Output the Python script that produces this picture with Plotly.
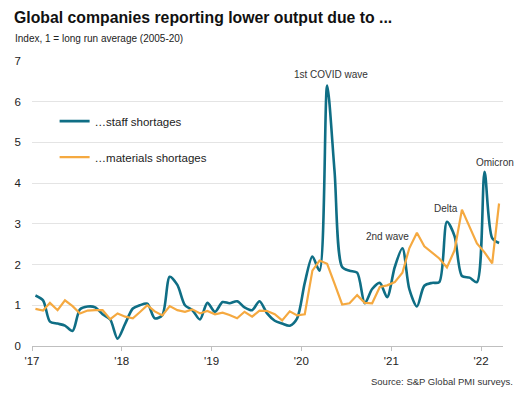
import pandas as pd
import plotly.graph_objects as go

# Monthly data, Jan 2017 - Mar 2022 (plotted mid-month)
months = (pd.date_range("2017-01-01", periods=63, freq="MS") + pd.Timedelta(days=14)).strftime("%Y-%m-%d").tolist()

staff = [1.24, 1.12, 0.60, 0.55, 0.50, 0.37, 0.90, 0.97, 0.95, 0.78,
         0.65, 0.18, 0.55, 0.92, 1.00, 1.04, 0.68, 0.76, 1.70, 1.50,
         1.00, 0.88, 0.65, 1.06, 0.84, 1.08, 1.05, 1.10, 0.95, 0.88,
         1.10, 0.80, 0.62, 0.55, 0.50, 0.68, 1.55, 2.20, 1.85, 6.40,
         4.30, 1.94, 1.85, 1.80, 1.05, 1.40, 1.55, 1.20, 1.94, 2.40,
         1.40, 0.97, 1.48, 1.55, 1.57, 3.05, 2.70, 1.72, 1.68, 1.57,
         4.28, 2.65, 2.53]

materials = [0.91, 0.87, 1.06, 0.88, 1.12, 0.98, 0.80, 0.87, 0.88, 0.88,
             0.66, 0.80, 0.72, 0.68, 0.83, 1.00, 0.85, 0.75, 0.98, 0.88,
             0.84, 0.90, 0.80, 0.86, 0.78, 0.82, 0.76, 0.68, 0.84, 0.72,
             0.87, 0.86, 0.78, 0.63, 0.85, 0.75, 0.78, 1.85, 2.10, 2.02,
             1.53, 1.02, 1.05, 1.25, 1.06, 1.05, 1.45, 1.49, 1.57, 1.80,
             2.40, 2.78, 2.45, 2.30, 2.15, 1.93, 2.35, 3.35, 2.95, 2.52,
             2.30, 2.03, 3.50]

year_ticks = ["2017-01-01", "2018-01-01", "2019-01-01", "2020-01-01", "2021-01-01", "2022-01-01"]
year_labels = ["'17", "'18", "'19", "'20", "'21", "'22"]

notes = [
    ("1st COVID wave", "2020-05-01", 6.67),
    ("2nd wave", "2020-12-18", 2.70),
    ("Delta", "2021-08-12", 3.38),
    ("Omicron", "2022-02-27", 4.50),
]

TEAL = "#0f6e85"
ORANGE = "#f5a940"
FONT = "Arial, Liberation Sans, sans-serif"

fig = go.Figure()
fig.add_trace(go.Scatter(x=months, y=staff, mode="lines", name="…staff shortages",
                         line=dict(color=TEAL, width=2.6, shape="spline", smoothing=0.8),
                         legendgroup="a"))
fig.add_trace(go.Scatter(x=months, y=materials, mode="lines", name="…materials shortages",
                         line=dict(color=ORANGE, width=2.2),
                         legendgroup="b"))

for text, x, y in notes:
    fig.add_annotation(x=x, y=y, text=text, showarrow=False, xref="x", yref="y",
                       font=dict(family=FONT, size=10, color="#333333"))

fig.add_annotation(text="<b>Global companies reporting lower output due to ...</b>",
                   xref="paper", yref="paper", x=-0.043, y=1.153, xanchor="left", yanchor="middle",
                   showarrow=False, font=dict(family=FONT, size=15.8, color="#111111"))
fig.add_annotation(text="Index, 1 = long run average (2005-20)",
                   xref="paper", yref="paper", x=-0.04, y=1.08, xanchor="left", yanchor="middle",
                   showarrow=False, font=dict(family=FONT, size=10, color="#222222"))
fig.add_annotation(text="Source: S&P Global PMI surveys.",
                   xref="paper", yref="paper", x=1.025, y=-0.126, xanchor="right", yanchor="middle",
                   showarrow=False, font=dict(family=FONT, size=9.5, color="#333333"))

fig.update_layout(
    width=530, height=398,
    margin=dict(l=32, r=27, t=61, b=52),
    paper_bgcolor="white", plot_bgcolor="white",
    font=dict(family=FONT, size=11, color="#333333"),
    showlegend=True,
    legend=dict(x=0.048, y=0.84, xanchor="left", yanchor="top",
                bgcolor="rgba(0,0,0,0)", tracegroupgap=17,
                font=dict(family=FONT, size=11.5, color="#222222"),
                itemwidth=30),
    xaxis=dict(type="date", range=["2017-01-01", "2022-03-31"],
               tickvals=year_ticks, ticktext=year_labels,
               showgrid=False, showline=True, linecolor="#bfbfbf", linewidth=1,
               ticks="outside", ticklen=4, tickcolor="#bfbfbf",
               tickfont=dict(family=FONT, size=11.5, color="#222222"),
               zeroline=False),
    yaxis=dict(range=[0, 7], dtick=1, showgrid=True, gridcolor="#e4e4e4", gridwidth=1,
               zeroline=False, showline=False, ticks="", ticklabelstandoff=10,
               tickfont=dict(family=FONT, size=11.5, color="#222222")),
)

fig.write_html("out.html", config={"displayModeBar": False},
               post_script="document.body.style.margin='0';")
